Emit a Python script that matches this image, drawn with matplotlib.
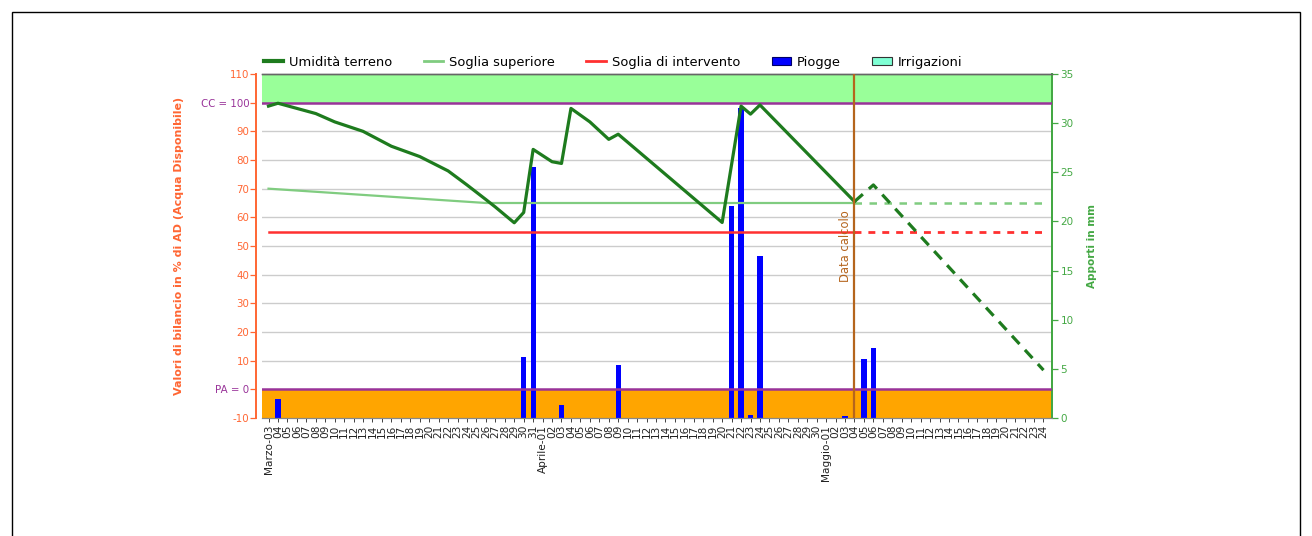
import datetime as dt
import matplotlib
matplotlib.use("Agg")
import matplotlib.pyplot as plt
import matplotlib.transforms as mtransforms
from matplotlib.patches import Rectangle, Patch
from matplotlib.lines import Line2D

# ---------------- data ----------------
start_date = dt.date(2023, 3, 3)
n_days = 83
month_names = {3: "Marzo", 4: "Aprile", 5: "Maggio"}

# soil moisture (% of AD), measured part (vertices by day index)
moist_days = [0, 1, 5, 7, 10, 13, 16, 19, 21, 23, 24, 26, 27, 28, 30, 31, 32, 34, 36, 37,
              48, 49, 50, 51, 52, 62]
moist_vals = [98.8, 99.8, 96.2, 93.3, 90.0, 84.8, 81.2, 76.2, 71.3, 66.2, 63.6, 58.1, 61.7,
              83.7, 79.4, 78.8, 98.0, 93.3, 87.2, 89.0, 58.2, 78.5, 98.8, 96.0, 99.2, 65.5]
# forecast part
fc_days = [62, 63, 64, 82]
fc_vals = [65.5, 68.4, 71.3, 6.7]

# upper threshold
sup_days = [0, 23, 62]
sup_vals = [70, 65, 65]
sup_fc_days = [62, 82]
sup_fc_vals = [65, 65]

# intervention threshold
int_days = [0, 62]
int_vals = [55, 55]
int_fc_days = [62, 82]
int_fc_vals = [55, 55]

# rain (mm, right axis)
rain_days = [1, 27, 28, 31, 37, 49, 50, 51, 52, 61, 63, 64]
rain_mm = [1.9, 6.2, 25.5, 1.3, 5.4, 21.6, 31.5, 0.3, 16.5, 0.2, 6.0, 7.1]

calc_day = 62
cc_value = 100
pa_value = 0
top_value = 110
bottom_value = -10

left_ticks = list(range(-10, 111, 10))
right_ticks = list(range(0, 36, 5))

# ---------------- labels ----------------
x_labels = []
for i in range(n_days):
    d = start_date + dt.timedelta(days=i)
    if i == 0 or d.day == 1:
        x_labels.append(f"{month_names[d.month]}-{d.day:02d}")
    else:
        x_labels.append(f"{d.day:02d}")

# ---------------- colors ----------------
c_moist = "#1E7B1E"
c_sup = "#80CC80"
c_int = "#FF3030"
c_rain = "#0000FF"
c_green_band = "#99FF99"
c_orange_band = "#FFA500"
c_purple = "#993399"
c_left = "#FF6633"
c_right = "#44A844"
c_calc = "#B5651D"

plt.rcParams["font.family"] = ["DejaVu Sans"]

fig = plt.figure(figsize=(13.12, 5.36), dpi=100)
ax2 = fig.add_axes([262 / 1312, 1 - 418 / 536, (1052 - 262) / 1312, (418 - 74) / 536])
ax = ax2.twinx()
ax2.yaxis.tick_right()
ax2.yaxis.set_label_position("right")
ax.yaxis.tick_left()
ax.yaxis.set_label_position("left")
ax.set_zorder(ax2.get_zorder() + 1)
ax.patch.set_visible(False)

# spines first (set_position resets ticks)
for a in (ax, ax2):
    a.spines["top"].set_color("#666666")
    a.spines["bottom"].set_color("#888888")
    a.spines["top"].set_linewidth(1.0)
    a.spines["bottom"].set_linewidth(0.8)
    a.spines["right"].set_color(c_right)
    a.spines["right"].set_linewidth(1.4)
ax2.spines["left"].set_visible(False)
ax.spines["left"].set_position(("outward", 4))
ax.spines["left"].set_color(c_left)
ax.spines["left"].set_linewidth(1.4)

xlim = (-0.69, 82.9)
ax.set_xlim(*xlim)
ax2.set_xlim(*xlim)
ax.set_ylim(bottom_value, top_value)
ax2.set_ylim(0, 35)

# bands & grid under bars (drawn on ax2 in left-axis units)
blend = mtransforms.blended_transform_factory(ax2.transAxes, ax.transData)
ax2.add_patch(Rectangle((0, cc_value), 1, top_value - cc_value, transform=blend,
                        facecolor=c_green_band, edgecolor="none", zorder=0))
ax2.add_patch(Rectangle((0, bottom_value), 1, pa_value - bottom_value, transform=blend,
                        facecolor=c_orange_band, edgecolor="none", zorder=0))
for v in left_ticks:
    if bottom_value < v < cc_value and v != pa_value:
        ax2.plot([0, 1], [v, v], transform=blend, color="#CCCCCC", lw=1, zorder=0.5)

# rain bars
ax2.bar(rain_days, rain_mm, width=0.55, color=c_rain, zorder=2)

# lines on top
ax.axhline(cc_value, color=c_purple, lw=1.8, zorder=3)
ax.axhline(pa_value, color=c_purple, lw=1.8, zorder=3)
ax.plot(sup_days, sup_vals, color=c_sup, lw=1.6, zorder=4)
ax.plot(sup_fc_days, sup_fc_vals, color=c_sup, lw=1.8, ls=(0, (3, 3)), zorder=4)
ax.plot(int_days, int_vals, color=c_int, lw=1.8, zorder=4)
ax.plot(int_fc_days, int_fc_vals, color=c_int, lw=2.0, ls=(0, (2.5, 2.5)), zorder=4)
ax.plot(moist_days, moist_vals, color=c_moist, lw=2.3, zorder=5)
ax.plot(fc_days, fc_vals, color=c_moist, lw=2.3, ls=(0, (3.5, 2.5)), zorder=5)

# data calcolo
ax.axvline(calc_day, color=c_calc, lw=1.6, zorder=6)
ax.text(calc_day - 0.3, 62.5, "Data calcolo", rotation=90, color=c_calc, fontsize=8.3,
        ha="right", va="top", zorder=6)

# y ticks
ax.set_yticks(left_ticks)
lbls = []
for v in left_ticks:
    if v == cc_value:
        lbls.append(f"CC = {cc_value}")
    elif v == pa_value:
        lbls.append(f"PA = {pa_value}")
    else:
        lbls.append(str(v))
ax.set_yticklabels(lbls)
ax.tick_params(axis="y", colors=c_left, labelsize=7.4, length=4, width=0.9, pad=1)
for t, tk, v in zip(ax.get_yticklabels(), ax.yaxis.get_major_ticks(), left_ticks):
    if v in (cc_value, pa_value):
        t.set_color(c_purple)
        tk.tick1line.set_color(c_purple)

ax2.set_yticks(right_ticks)
ax2.tick_params(axis="y", colors=c_right, labelsize=7.5, length=4, width=0.9, pad=2)

# x ticks (on ax2, the axes that owns the visible x axis)
ax2.set_xticks(range(n_days))
ax2.set_xticklabels(x_labels, rotation=90, fontsize=7.6)
ax2.tick_params(axis="x", length=3, width=0.6, pad=2, colors="#222222")

ax.set_ylabel("Valori di bilancio in % di AD (Acqua Disponibile)", color=c_left,
              fontsize=8, fontweight="bold", labelpad=12)
ax2.set_ylabel("Apporti in mm", color=c_right, fontsize=7.5, fontweight="bold", labelpad=10)

# legend
handles = [
    Line2D([], [], color=c_moist, lw=3),
    Line2D([], [], color=c_sup, lw=2),
    Line2D([], [], color=c_int, lw=2),
    Patch(facecolor=c_rain, edgecolor="#000066", lw=0.8),
    Patch(facecolor="#7FFFD4", edgecolor="#333333", lw=0.8),
]
names = ["Umidità terreno", "Soglia superiore", "Soglia di intervento", "Piogge", "Irrigazioni"]
fig.legend(handles, names, loc="center left", bbox_to_anchor=(252 / 1312, 1 - 62 / 536),
           ncol=5, frameon=False, fontsize=9.4, handlelength=1.5, handletextpad=0.45,
           columnspacing=2.4, handleheight=0.6)

# outer frame
fig.add_artist(Rectangle((12 / 1312, -0.02), (1300 - 12) / 1312, 1 - 12 / 536 + 0.02,
                         transform=fig.transFigure, fill=False, edgecolor="black", lw=1))

fig.savefig("out.png", dpi=100)
